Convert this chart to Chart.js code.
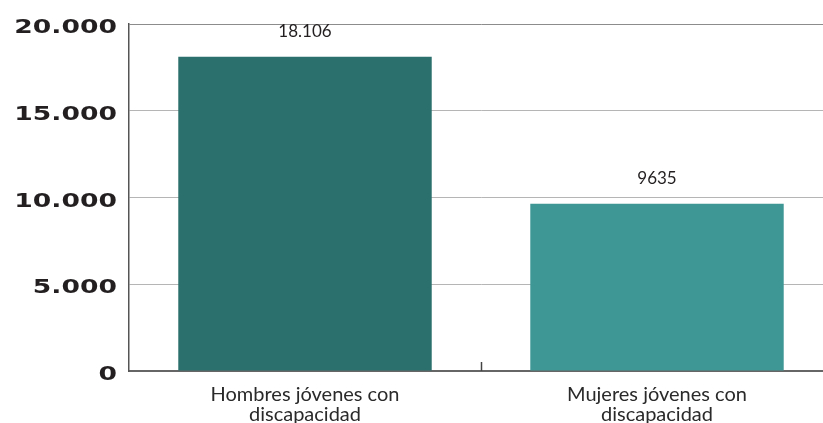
<!DOCTYPE html>
<html>
<head>
<meta charset="utf-8">
<script src="https://cdn.jsdelivr.net/npm/chart.js@4.4.0/dist/chart.umd.min.js"></script>
<style>
  html, body { margin: 0; padding: 0; background: #fff; overflow: hidden; }
  #wrap { width: 833px; height: 423px; }
</style>
</head>
<body>
<div id="wrap"><canvas id="myChart"></canvas></div>
<script>
// Jóvenes con discapacidad, por sexo
const categories = [['Hombres jóvenes con', 'discapacidad'], ['Mujeres jóvenes con', 'discapacidad']];
const values = [18106, 9635];
const barColors = ['#2b706c', '#3f9795'];
const yTicks = [0, 5000, 10000, 15000, 20000];

// 4-digit numbers stay ungrouped in the value labels, axis always groups
function groupDots(n) {
  return String(n).replace(/\B(?=(\d{3})+(?!\d))/g, '.');
}
function valueLabel(n) {
  return n >= 10000 ? groupDots(n) : String(n);
}

// wide bold labels for the y axis, stretched horizontally
const yLabelsPlugin = {
  id: 'yLabels',
  afterDraw(chart) {
    const ctx = chart.ctx;
    const scale = chart.scales.y;
    ctx.save();
    ctx.fillStyle = '#231f20';
    ctx.font = 'bold 20px "DejaVu Sans"';
    ctx.textAlign = 'right';
    ctx.textBaseline = 'middle';
    yTicks.forEach(v => {
      const py = scale.getPixelForValue(v);
      ctx.save();
      ctx.translate(117, py + 4);
      ctx.scale(1.33, 1);
      ctx.fillText(groupDots(v), 0, 0);
      ctx.restore();
    });
    ctx.restore();
  }
};

// value text above each bar, plus the small divider tick between categories
const barLabelsPlugin = {
  id: 'barLabels',
  afterDatasetsDraw(chart) {
    const ctx = chart.ctx;
    const meta = chart.getDatasetMeta(0);
    ctx.save();
    ctx.fillStyle = '#231f20';
    ctx.font = '17px Lato';
    ctx.textAlign = 'center';
    ctx.textBaseline = 'middle';
    meta.data.forEach((bar, i) => {
      ctx.fillText(valueLabel(values[i]), bar.x, bar.y - 25);
    });

    const xs = chart.scales.x;
    const mid = (xs.getPixelForTick(0) + xs.getPixelForTick(1)) / 2;
    const bottom = chart.chartArea.bottom;
    ctx.strokeStyle = '#444';
    ctx.lineWidth = 1.5;
    ctx.beginPath();
    ctx.moveTo(Math.round(mid) + 0.5, bottom - 9);
    ctx.lineTo(Math.round(mid) + 0.5, bottom);
    ctx.stroke();
    ctx.restore();
  }
};

const ctx = document.getElementById('myChart').getContext('2d');
const chart = new Chart(ctx, {
  type: 'bar',
  data: {
    labels: categories,
    datasets: [{
      data: values,
      backgroundColor: barColors,
      borderWidth: 0,
      barPercentage: 0.72,
      categoryPercentage: 1
    }]
  },
  options: {
    responsive: true,
    maintainAspectRatio: false,
    animation: false,
    layout: { padding: { top: 24, right: 0, bottom: 0, left: 0 } },
    plugins: {
      legend: { display: false },
      tooltip: { enabled: false }
    },
    scales: {
      x: {
        grid: { display: false },
        border: { color: '#666', width: 2 },
        ticks: {
          color: '#2a2a2a',
          font: { family: 'Lato', size: 20, lineHeight: 1.0 },
          padding: 6,
          maxRotation: 0
        },
        afterFit(scale) { scale.height = 52; }
      },
      y: {
        min: 0,
        max: 20000,
        afterBuildTicks(scale) {
          scale.ticks = yTicks.map(v => ({ value: v }));
        },
        grid: {
          drawTicks: false,
          color: ctx => ctx.tick && ctx.tick.value === 20000 ? '#8c8c8c' : '#b5b5b5',
          lineWidth: 1
        },
        border: { color: '#555', width: 1.5 },
        ticks: { display: false },
        afterFit(scale) { scale.width = 129; }
      }
    }
  },
  plugins: [yLabelsPlugin, barLabelsPlugin]
});
</script>
</body>
</html>
